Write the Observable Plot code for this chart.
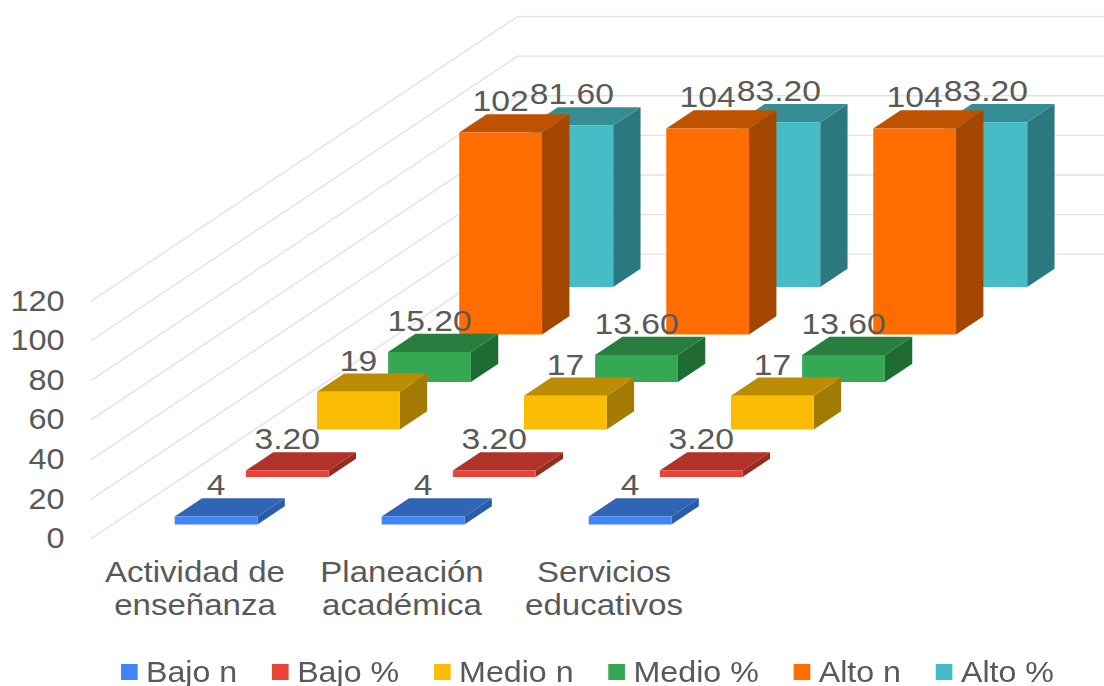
<!DOCTYPE html>
<html lang="es">
<head>
<meta charset="utf-8">
<script src="https://cdn.jsdelivr.net/npm/d3@7"></script>
<script src="https://cdn.jsdelivr.net/npm/@observablehq/plot@0.6"></script>
<style>
  html, body { margin: 0; padding: 0; background: #fff; overflow: hidden; width: 1104px; height: 686px; }
  #chart svg { display: block; overflow: hidden; }
  #legend {
    display: flex; align-items: center; height: 36px; box-sizing: border-box; padding: 8px 0 0 109px;
    width: 1000px; white-space: nowrap;
    font: 29px "Liberation Sans", Arial, sans-serif; color: #595959;
    transform: scaleX(1.11); transform-origin: 0 0; gap: 31.5px;
  }
  #legend .item { display: flex; align-items: center; gap: 7.6px; }
  #legend .swatch { width: 14.9px; height: 15.5px; display: block; }
  #wrap { filter: blur(0.55px); }
</style>
</head>
<body>
<div id="wrap">
  <div id="chart"></div>
  <div id="legend"></div>
</div>
<script>
// ---- Data ----
const categories = ["Actividad de\nenseñanza", "Planeación\nacadémica", "Servicios\neducativos"];
const seriesNames = ["Bajo n", "Bajo %", "Medio n", "Medio %", "Alto n", "Alto %"];
const bajoN    = [4, 4, 4];
const bajoPct  = [3.2, 3.2, 3.2];
const medioN   = [19, 17, 17];
const medioPct = [15.2, 13.6, 13.6];
const altoN    = [102, 104, 104];
const altoPct  = [81.6, 83.2, 83.2];
const seriesValues = [bajoN, bajoPct, medioN, medioPct, altoN, altoPct];
const yTicks = [0, 20, 40, 60, 80, 100, 120];

// ---- Styles ----
const frontColors = ["#4285F4", "#EA4335", "#FBBC04", "#34A853", "#FF6D01", "#46BDC6"];
const topColors   = ["#3164B7", "#B03228", "#BC8D03", "#277E3E", "#BF5201", "#348E94"];
const sideColors  = ["#2B5CA8", "#962B22", "#A37A03", "#1F6C33", "#A34600", "#2B787E"];
const textColor = "#595959";
const gridColor = "#e2e2e2";
const font = '"Liberation Sans", Arial, sans-serif';
const axisSize = 30, valueSize = 29, catSize = 29.5;
const stretch = {[axisSize]: 1.08, [valueSize]: 1.16, [catSize]: 1.12};
const catNudge = [0, 0, -5];

// ---- Oblique 3-D projection, in category units (x) and value units (y) ----
const W = 1104, H = 650;
const catPx = 207;                 // one category across
const wallX = 91 / catPx;          // front edge of the side wall
const runX = 426 / catPx;          // x travel for the whole depth of the chart
const runY = 143.6;                // y travel (value units) for the whole depth
const gap = 0.3, barW = 0.4;       // lateral layout within a category
const depth0 = 0.0495, depthStep = 0.167, barDepth = 0.0642;

const px = (lateral, d) => wallX + lateral + d * runX;
const py = (value, d) => value + d * runY;

// Polygons for every bar: side, top and front, back row first.
const faces = [];
const labels = [];
for (let s = seriesNames.length - 1; s >= 0; s--) {
  const d0 = depth0 + s * depthStep, d1 = d0 + barDepth;
  categories.forEach((cat, c) => {
    const v = seriesValues[s][c], l0 = c + gap, l1 = l0 + barW;
    const poly = (name, color, pts) => pts.forEach(([l, h, d]) =>
      faces.push({face: `${s}-${c}-${name}`, color, x: px(l, d), y: py(h, d)}));
    poly("side", sideColors[s], [[l1, 0, d0], [l1, 0, d1], [l1, v, d1], [l1, v, d0]]);
    poly("top", topColors[s], [[l0, v, d0], [l1, v, d0], [l1, v, d1], [l0, v, d1]]);
    poly("front", frontColors[s], [[l0, 0, d0], [l1, 0, d0], [l1, v, d0], [l0, v, d0]]);
    labels.push({
      x: px((l0 + l1) / 2, d0), y: py(v, d1),
      text: seriesNames[s].endsWith("%") ? v.toFixed(2) : String(v)
    });
  });
}

// Gridlines: along the side wall, then along the back wall.
const grid = yTicks.flatMap(t => [
  {g: t, x: px(0, 0), y: py(t, 0)},
  {g: t, x: px(0, 1), y: py(t, 1)},
  {g: t, x: px(categories.length, 1), y: py(t, 1)}
]);

const catLabels = categories.map((text, c) => ({text, x: px(c + 0.5, 0) + catNudge[c] / catPx}));

const chart = Plot.plot({
  width: W, height: H,
  marginLeft: 68, marginRight: 0, marginTop: 0, marginBottom: 0,
  style: {background: "#fff", fontFamily: font},
  x: {domain: [0, W / catPx], range: [0, W], axis: null},
  y: {domain: [0, 120], range: [538, 538 - 120 * 1.98], axis: null},
  marks: [
    Plot.line(grid, {x: "x", y: "y", z: "g", stroke: gridColor, strokeWidth: 1.4}),
    Plot.line(faces, {x: "x", y: "y", z: "face", fill: "color", stroke: "none"}),
    Plot.axisY({
      ticks: yTicks, tickSize: 0, tickPadding: 4, label: null,
      fontSize: axisSize, fill: textColor, color: textColor
    }),
    Plot.text(labels, {
      x: "x", y: "y", text: "text", fontSize: valueSize, fill: textColor,
      textAnchor: "middle", lineAnchor: "bottom", dy: -3
    }),
    Plot.text(catLabels, {
      x: "x", y: () => 0, text: "text", fontSize: catSize, fill: textColor,
      textAnchor: "middle", lineAnchor: "top", dy: 20, lineHeight: 1.12
    })
  ]
});
document.getElementById("chart").append(chart);

// The reference's lettering is stretched sideways: widen the real text to match.
chart.querySelectorAll("text").forEach(t => {
  const spans = t.querySelectorAll("tspan");
  const factor = stretch[parseFloat(getComputedStyle(t).fontSize)] || 1.12;
  (spans.length ? [...spans] : [t]).forEach(el => {
    const len = el.getComputedTextLength();
    if (len > 0) {
      el.setAttribute("textLength", (len * factor).toFixed(1));
      el.setAttribute("lengthAdjust", "spacingAndGlyphs");
    }
  });
});

// Legend
const legend = d3.select("#legend");
seriesNames.forEach((name, i) => {
  const item = legend.append("div").attr("class", "item");
  item.append("span").attr("class", "swatch").style("background", frontColors[i]);
  item.append("span").text(name);
});
</script>
</body>
</html>
